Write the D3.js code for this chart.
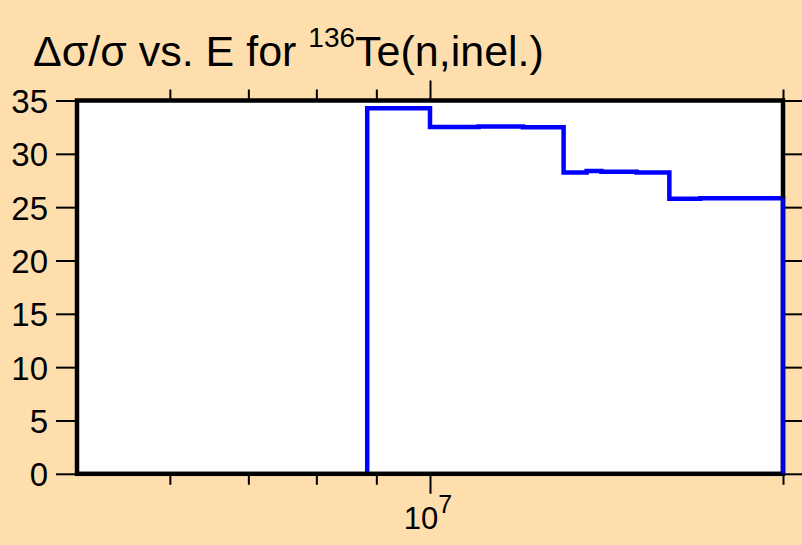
<!DOCTYPE html>
<html><head><meta charset="utf-8">
<script src="https://cdn.jsdelivr.net/npm/d3@7"></script>
<style>html,body{margin:0;padding:0;background:#FFDEAD;}svg{display:block;}</style>
</head><body>
<script>
// Data
const binEdges = [8.84e6, 1.0e7, 1.1e7, 1.2e7, 1.3e7, 1.36e7, 1.4e7, 1.5e7, 1.6e7, 1.7e7, 2.0e7];
const binValues = [34.28, 32.52, 32.56, 32.5, 28.25, 28.38, 28.33, 28.25, 25.78, 25.84];
const yTicks = [0, 5, 10, 15, 20, 25, 30, 35];
const xMinorTicks = [6e6, 7e6, 8e6, 9e6, 2e7];
const xMajorTicks = [1e7];

const W = 802, H = 545;
const m = {left: 77, right: 783, top: 100.5, bottom: 473.8};
const svg = d3.select("body").append("svg").attr("width", W).attr("height", H);
svg.append("rect").attr("width", W).attr("height", H).attr("fill", "#FFDEAD");

const x = d3.scaleLog().domain([5e6, 2e7]).range([m.left, m.right]);
const y = d3.scaleLinear().domain([0, 35]).range([m.bottom, m.top]);

svg.append("rect").attr("x", m.left).attr("y", m.top)
  .attr("width", m.right - m.left).attr("height", m.bottom - m.top).attr("fill", "#fff");

// step path
const pts = [[binEdges[0], 0]];
binValues.forEach((v, i) => { pts.push([binEdges[i], v]); pts.push([binEdges[i+1], v]); });
pts.push([binEdges[binEdges.length-1], 0]);
svg.append("path")
  .attr("d", d3.line().x(d => x(d[0])).y(d => y(d[1]))(pts))
  .attr("fill", "none").attr("stroke", "#0000FF").attr("stroke-width", 4.5)
  .attr("stroke-linejoin", "miter");

const font = "Liberation Sans, Arial, Helvetica, sans-serif";
const tickW = 2;
function styleAxis(g) {
  g.select(".domain").remove();
  g.selectAll("line").attr("stroke", "#000").attr("stroke-width", tickW);
  g.selectAll("text").attr("fill", "#000").attr("font-family", font).attr("font-size", 33);
}
// left
svg.append("g").attr("transform", `translate(${m.left},0)`)
  .call(d3.axisLeft(y).tickValues(yTicks).tickSize(21).tickPadding(8).tickFormat(d3.format("d")))
  .call(styleAxis).call(g => g.selectAll("text").attr("dy", "0.36em"));
// right
svg.append("g").attr("transform", `translate(${m.right},0)`)
  .call(d3.axisRight(y).tickValues(yTicks).tickSize(21).tickFormat(""))
  .call(styleAxis);
// bottom minor & major
svg.append("g").attr("transform", `translate(0,${m.bottom})`)
  .call(d3.axisBottom(x).tickValues(xMinorTicks).tickSize(11).tickFormat(""))
  .call(styleAxis);
svg.append("g").attr("transform", `translate(0,${m.bottom})`)
  .call(d3.axisBottom(x).tickValues(xMajorTicks).tickSize(20).tickFormat(""))
  .call(styleAxis);
// top minor & major
svg.append("g").attr("transform", `translate(0,${m.top})`)
  .call(d3.axisTop(x).tickValues(xMinorTicks).tickSize(11).tickFormat(""))
  .call(styleAxis);
svg.append("g").attr("transform", `translate(0,${m.top})`)
  .call(d3.axisTop(x).tickValues(xMajorTicks).tickSize(20).tickFormat(""))
  .call(styleAxis);

// x major label 10^7
xMajorTicks.forEach(v => {
  const exp = Math.round(Math.log10(v));
  const t = svg.append("text").attr("x", x(v) - 2).attr("y", 529)
    .attr("text-anchor", "middle").attr("font-family", font).attr("font-size", 31).attr("fill", "#000");
  t.append("tspan").text("10");
  t.append("tspan").attr("font-size", 25).attr("dy", -16).text(exp);
});

// frame
svg.append("rect").attr("x", m.left).attr("y", m.top)
  .attr("width", m.right - m.left).attr("height", m.bottom - m.top)
  .attr("fill", "none").attr("stroke", "#000").attr("stroke-width", 4.5);
svg.append("path")
  .attr("d", d3.line().x(d => x(d[0])).y(d => y(d[1]))(pts.slice(-2)))
  .attr("stroke", "#0000FF").attr("stroke-width", 3.5);

// title
const title = svg.append("text").attr("x", 33).attr("y", 66)
  .attr("font-family", font).attr("font-size", 43).attr("fill", "#000");
title.append("tspan").text("Δσ/σ vs. E for ");
title.append("tspan").attr("font-size", 28).attr("dy", -19).text("136");
title.append("tspan").attr("dy", 19).text("Te(n,inel.)");
</script>
</body></html>
